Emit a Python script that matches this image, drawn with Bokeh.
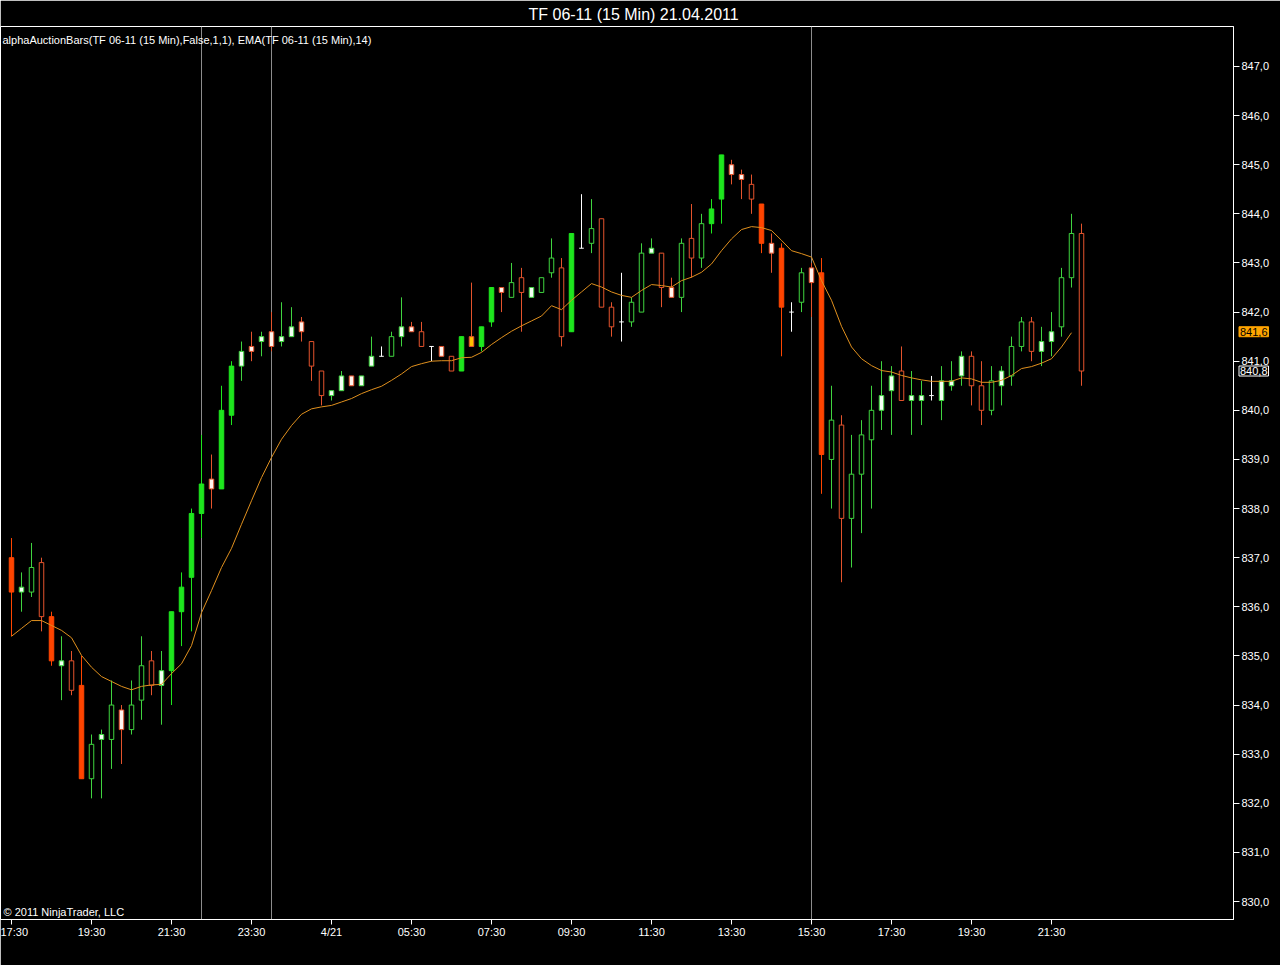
from bokeh.plotting import figure
from bokeh.models import Range1d, FixedTicker, Span, Label, ColumnDataSource
from bokeh.embed import file_html
from bokeh.resources import INLINE

# ---- data (15-min bars, TF 06-11) ----
opens = [837.0, 836.3, 836.3, 836.9, 835.8, 834.8, 834.9, 834.4, 832.5, 833.3,
         833.3, 833.9, 833.5, 834.1, 834.9, 834.4, 834.7, 835.9, 836.6, 837.9,
         838.6, 838.4, 839.9, 840.9, 841.3, 841.4, 841.6, 841.4, 841.5, 841.8,
         841.4, 840.8, 840.3, 840.4, 840.7, 840.5, 840.9, 841.1, 841.1, 841.5,
         841.7, 841.6, 841.3, 841.3, 841.1, 840.8, 841.5, 841.3, 841.8, 842.5,
         842.3, 842.7, 842.3, 842.4, 842.8, 842.9, 841.6, 843.3, 843.4, 843.9,
         842.1, 841.8, 841.8, 842.0, 843.2, 843.2, 842.5, 842.3, 843.5, 843.1,
         843.8, 844.3, 845.0, 844.8, 844.6, 844.2, 843.4, 843.3, 842.0, 842.2,
         842.9, 842.8, 839.0, 839.7, 837.8, 838.7, 839.4, 840.0, 840.4, 840.8,
         840.2, 840.2, 840.3, 840.2, 840.5, 840.7, 841.1, 840.5, 840.0, 840.5,
         840.7, 841.3, 841.8, 841.2, 841.4, 841.7, 842.7, 843.6]
highs = [837.4, 836.7, 837.3, 837.0, 835.9, 835.4, 835.1, 835.0, 833.4, 833.5,
         834.5, 834.0, 834.5, 835.4, 835.1, 835.1, 835.9, 836.7, 838.0, 839.5,
         839.1, 840.5, 841.0, 841.4, 841.6, 841.6, 842.0, 842.2, 842.1, 841.9,
         841.4, 840.8, 840.4, 840.8, 840.7, 840.7, 841.5, 841.3, 841.6, 842.3,
         841.8, 841.8, 841.3, 841.3, 841.1, 841.5, 842.6, 841.7, 842.5, 842.5,
         843.0, 842.9, 842.5, 842.7, 843.5, 843.1, 843.6, 844.4, 844.3, 843.9,
         842.2, 842.8, 842.3, 843.4, 843.5, 843.2, 842.7, 843.5, 844.2, 844.0,
         844.3, 845.2, 845.1, 844.9, 844.8, 844.2, 843.6, 843.4, 842.2, 842.9,
         843.0, 843.1, 840.5, 839.9, 839.5, 839.8, 840.5, 841.0, 840.9, 841.3,
         840.8, 840.6, 840.7, 840.9, 841.0, 841.2, 841.2, 841.0, 840.9, 840.9,
         841.5, 841.9, 841.9, 841.7, 842.0, 842.9, 844.0, 843.8]
lows = [835.4, 835.9, 836.2, 835.5, 834.8, 834.1, 834.2, 832.5, 832.1, 832.1,
        832.7, 832.8, 833.4, 833.7, 834.2, 833.6, 834.0, 835.2, 835.5, 837.4,
        838.0, 838.4, 839.7, 840.6, 841.0, 841.1, 841.2, 841.3, 841.5, 841.4,
        840.6, 840.1, 840.2, 840.4, 840.5, 840.5, 840.9, 841.1, 841.1, 841.3,
        841.6, 841.3, 841.0, 841.1, 840.8, 840.8, 841.3, 841.2, 841.7, 842.0,
        842.3, 841.6, 842.3, 842.4, 842.7, 841.3, 841.6, 843.3, 843.2, 842.1,
        841.5, 841.4, 841.7, 842.0, 843.2, 842.1, 842.3, 842.0, 842.7, 842.9,
        843.6, 843.8, 844.6, 844.3, 844.0, 843.2, 842.8, 841.1, 841.6, 842.0,
        841.9, 838.3, 838.0, 836.5, 836.8, 837.5, 838.0, 839.6, 839.5, 840.2,
        839.5, 839.7, 840.2, 839.8, 840.4, 840.5, 840.1, 839.7, 839.9, 840.1,
        840.5, 841.2, 841.0, 840.9, 841.1, 841.5, 842.5, 840.5]
closes = [836.3, 836.4, 836.8, 835.8, 834.9, 834.9, 834.3, 832.5, 833.2, 833.4,
          834.0, 833.5, 834.0, 834.8, 834.4, 834.7, 835.9, 836.4, 837.9, 838.5,
          838.4, 840.0, 840.9, 841.2, 841.2, 841.5, 841.3, 841.5, 841.7, 841.6,
          840.9, 840.3, 840.4, 840.7, 840.5, 840.7, 841.1, 841.1, 841.5, 841.7,
          841.6, 841.3, 841.3, 841.1, 840.8, 841.5, 841.3, 841.7, 842.5, 842.4,
          842.6, 842.4, 842.5, 842.7, 843.1, 841.5, 843.6, 843.3, 843.7, 842.1,
          841.7, 841.8, 842.2, 843.2, 843.3, 842.5, 842.3, 843.4, 843.1, 843.8,
          844.1, 845.2, 844.8, 844.7, 844.3, 843.4, 843.2, 842.1, 842.0, 842.8,
          842.6, 839.1, 839.8, 837.8, 838.7, 839.5, 840.0, 840.3, 840.7, 840.2,
          840.3, 840.3, 840.3, 840.6, 840.6, 841.1, 840.5, 840.0, 840.6, 840.8,
          841.3, 841.8, 841.2, 841.4, 841.6, 842.7, 843.6, 840.8]
# bar type of the alphaAuctionBars indicator
styles = ["R", "w", "g", "r", "R", "w", "r", "R", "g", "w",
          "g", "o", "g", "g", "r", "w", "G", "G", "G", "G",
          "o", "G", "G", "w", "o", "w", "o", "w", "w", "o",
          "r", "r", "w", "w", "o", "w", "w", "d", "g", "w",
          "o", "r", "d", "o", "r", "G", "y", "G", "G", "o",
          "g", "r", "w", "g", "g", "r", "G", "d", "g", "r",
          "r", "d", "g", "g", "w", "r", "o", "g", "r", "g",
          "G", "G", "o", "o", "r", "R", "o", "R", "d", "g",
          "o", "R", "g", "r", "g", "g", "g", "w", "w", "r",
          "w", "w", "d", "w", "w", "w", "r", "r", "g", "w",
          "g", "g", "r", "w", "w", "g", "g", "r"]
# EMA(14)
ema = [835.40, 835.56, 835.72, 835.72, 835.62, 835.52, 835.37, 835.01, 834.77, 834.58,
       834.48, 834.38, 834.31, 834.38, 834.41, 834.42, 834.64, 834.84, 835.21, 835.88,
       836.33, 836.80, 837.19, 837.68, 838.16, 838.63, 839.04, 839.41, 839.69, 839.92,
       840.03, 840.07, 840.10, 840.17, 840.24, 840.34, 840.42, 840.49, 840.61, 840.74,
       840.89, 840.95, 841.00, 841.01, 841.01, 841.07, 841.08, 841.18, 841.34, 841.48,
       841.61, 841.72, 841.82, 841.92, 842.13, 842.05, 842.24, 842.41, 842.58, 842.51,
       842.41, 842.34, 842.30, 842.44, 842.56, 842.54, 842.51, 842.64, 842.71, 842.81,
       842.98, 843.25, 843.49, 843.68, 843.74, 843.72, 843.66, 843.46, 843.25, 843.19,
       843.12, 842.64, 842.24, 841.71, 841.29, 841.05, 840.91, 840.81, 840.78, 840.71,
       840.66, 840.62, 840.59, 840.59, 840.59, 840.66, 840.64, 840.57, 840.57, 840.61,
       840.71, 840.85, 840.89, 840.96, 841.05, 841.29, 841.58]
time_tick_bars = [0, 8, 16, 24, 32, 40, 48, 56, 64, 72, 80, 88, 96, 104]
time_tick_labels = ["17:30", "19:30", "21:30", "23:30", "4/21", "05:30", "07:30",
                    "09:30", "11:30", "13:30", "15:30", "17:30", "19:30", "21:30"]
session_lines = [19, 26, 80]
price_ticks = list(range(830, 848))
last_price = 840.8
ema_last = 841.6

# ---- styling ----
FONT = "Liberation Sans"
GREEN_F = "#1ee61e"
GREEN_L = "#3fd43f"
RED_F = "#ff4500"
RED_L = "#e4532c"
fill_map = {"G": GREEN_F, "g": "black", "w": "#f4fff4", "R": RED_F,
            "r": "black", "o": "#fff4ee", "y": "#ffc000", "d": "white"}
line_map = {"G": GREEN_F, "g": GREEN_L, "w": GREEN_L, "R": RED_F,
            "r": RED_L, "o": RED_L, "y": RED_L, "d": "white"}

n = len(opens)
xs = list(range(n))
src = ColumnDataSource(dict(
    x=xs, high=highs, low=lows,
    top=[max(o, c) for o, c in zip(opens, closes)],
    bottom=[min(o, c) for o, c in zip(opens, closes)],
    fill=[fill_map[s] for s in styles],
    line=[line_map[s] for s in styles],
))
body_idx = [i for i in xs if styles[i] != "d"]
doji_idx = [i for i in xs if styles[i] == "d"]
bsrc = ColumnDataSource({k: [v[i] for i in body_idx] for k, v in src.data.items()})
dsrc = ColumnDataSource(dict(x0=[i - 0.23 for i in doji_idx], x1=[i + 0.23 for i in doji_idx],
                             y=[closes[i] for i in doji_idx]))

p = figure(width=1280, height=965,
           x_range=Range1d(-1.1, 122.2), y_range=Range1d(829.634, 847.814),
           output_backend="svg", toolbar_location=None,
           y_axis_location="right",
           background_fill_color="black", border_fill_color="black",
           min_border_left=0, min_border_right=47, min_border_top=26, min_border_bottom=46)

p.title.text = "TF 06-11 (15 Min)  21.04.2011"
p.title.align = "left"
p.title.offset = 528
p.title.standoff = 7
p.title.text_color = "white"
p.title.text_font = FONT
p.title.text_font_size = "16px"
p.title.text_font_style = "normal"

p.outline_line_color = "white"
p.grid.visible = False

for ax in (p.xaxis[0], p.yaxis[0]):
    ax.axis_line_color = "white"
    ax.major_tick_line_color = "white"
    ax.major_tick_out = 6
    ax.major_tick_in = 0
    ax.minor_tick_line_color = None
    ax.major_label_text_color = "white"
    ax.major_label_text_font = FONT
    ax.major_label_text_font_size = "11px"
    ax.major_label_standoff = 2
p.xaxis.major_tick_out = 5
p.xaxis.major_label_standoff = 1

p.xaxis.ticker = FixedTicker(ticks=time_tick_bars)
p.xaxis.major_label_overrides = dict(zip(time_tick_bars, time_tick_labels))
p.yaxis.ticker = FixedTicker(ticks=price_ticks)
p.yaxis.major_label_overrides = {v: f"{v},0" for v in price_ticks}

for loc in session_lines:
    p.add_layout(Span(location=loc, dimension="height", line_color="#8c8c8c",
                      line_width=1, level="underlay"))

# candles
p.segment(x0="x", x1="x", y0="low", y1="high", line_color="line", line_width=1, source=src)
p.vbar(x="x", width=0.45, top="top", bottom="bottom", fill_color="fill",
       line_color="line", line_width=1, source=bsrc)
p.segment(x0="x0", x1="x1", y0="y", y1="y", line_color="white", line_width=1, source=dsrc)

# EMA
p.line(x=list(range(len(ema))), y=ema, line_color="#e0901e", line_width=1)

# texts in plot
p.add_layout(Label(x=-0.9, y=847.53, text="alphaAuctionBars(TF 06-11 (15 Min),False,1,1), EMA(TF 06-11 (15 Min),14)",
                   text_color="white", text_font=FONT, text_font_size="11px",
                   text_baseline="middle", text_align="left"))
p.add_layout(Label(x=-0.8, y=829.78, text="\u00a9 2011 NinjaTrader, LLC",
                   text_color="white", text_font=FONT, text_font_size="11px",
                   text_baseline="middle", text_align="left"))

# price tags on the axis (kept in a side panel so they are not clipped to the frame)
p.add_layout(Label(x=122.75, y=ema_last, text=f"{ema_last:.1f}".replace(".", ","),
                   text_color="black", text_font=FONT, text_font_size="11px",
                   text_baseline="middle", text_align="left", text_line_height=1.0,
                   background_fill_color="#ffa500", border_line_color="#ffa500", padding=1), "below")
p.add_layout(Label(x=122.75, y=last_price, text=f"{last_price:.1f}".replace(".", ","),
                   text_color="white", text_font=FONT, text_font_size="11px",
                   text_baseline="middle", text_align="left", text_line_height=1.0,
                   background_fill_color="black", border_line_color="white", padding=1), "below")

open("out.html", "w").write(file_html(p, INLINE))
